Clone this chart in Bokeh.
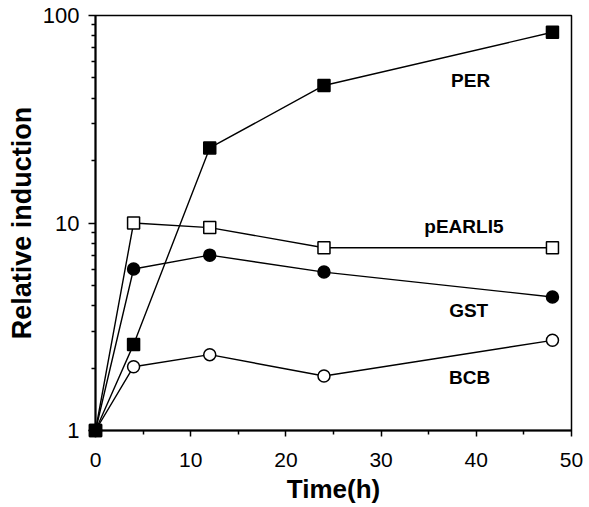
from bokeh.plotting import figure
from bokeh.models import FixedTicker, Range1d, ColumnDataSource, CustomJSTickFormatter
from bokeh.core.properties import value
from bokeh.embed import file_html
from bokeh.resources import INLINE

time_h = [0, 4, 12, 24, 48]
per = [1.0, 2.6, 23.0, 46.0, 83.0]
pearli5 = [1.0, 10.0, 9.5, 7.6, 7.6]
gst = [1.0, 6.0, 7.0, 5.8, 4.4]
bcb = [1.0, 2.03, 2.32, 1.83, 2.72]

label_names = ["PER", "pEARLI5", "GST", "BCB"]
label_x = [39.4, 38.7, 39.2, 39.3]
label_y = [48.5, 9.6, 3.8, 1.81]

x_ticks = [0, 10, 20, 30, 40, 50]
x_minor = [5, 15, 25, 35, 45]
y_ticks = [1, 10, 100]
y_minor = [2, 3, 4, 5, 6, 7, 8, 9, 20, 30, 40, 50, 60, 70, 80, 90]

p = figure(frame_width=476, frame_height=415,
           y_axis_type="log", x_range=Range1d(0, 50), y_range=Range1d(1, 100),
           output_backend="svg", toolbar_location=None,
           min_border_left=95, min_border_right=17, min_border_top=15, min_border_bottom=77)
p.background_fill_color = "white"
p.border_fill_color = "white"
p.grid.visible = False
p.outline_line_color = "black"
p.outline_line_width = 1.5

p.xaxis.ticker = FixedTicker(ticks=x_ticks, minor_ticks=x_minor)
p.yaxis.ticker = FixedTicker(ticks=y_ticks, minor_ticks=y_minor)
p.yaxis.formatter = CustomJSTickFormatter(code="return tick.toFixed(0)")

for ax in (p.xaxis[0], p.yaxis[0]):
    ax.axis_line_width = 2
    ax.axis_line_color = "black"
    ax.major_tick_line_width = 1.5
    ax.minor_tick_line_width = 1.5
    ax.major_tick_in = 0
    ax.minor_tick_in = 0
    ax.major_label_text_font = "Liberation Sans"
    ax.major_label_text_color = "black"
    ax.axis_label_text_font = "Liberation Sans"
    ax.axis_label_text_font_style = "bold"
    ax.axis_label_text_color = "black"

p.xaxis.major_tick_out = 6
p.xaxis.minor_tick_out = 4
p.yaxis.major_tick_out = 7
p.yaxis.minor_tick_out = 4
p.xaxis.major_label_text_font_size = "21px"
p.yaxis.major_label_text_font_size = "22px"
p.xaxis.major_label_standoff = 16
p.yaxis.major_label_standoff = 9
p.xaxis.axis_label = "Time(h)"
p.yaxis.axis_label = "Relative induction"
p.xaxis.axis_label_text_font_size = "26px"
p.yaxis.axis_label_text_font_size = "27px"
p.xaxis.axis_label_standoff = 4
p.yaxis.axis_label_standoff = 3

series = [
    (per, "square", "black"),
    (pearli5, "square", "white"),
    (gst, "circle", "black"),
    (bcb, "circle", "white"),
]
for vals, marker, fill in series:
    src = ColumnDataSource(dict(x=time_h, y=vals))
    p.line("x", "y", source=src, line_color="black", line_width=1.4)
for vals, marker, fill in reversed(series):
    src = ColumnDataSource(dict(x=time_h, y=vals))
    p.scatter("x", "y", source=src, marker=marker, size=12, fill_color=fill,
              line_color="black", line_width=1.5, level="overlay")

lsrc = ColumnDataSource(dict(x=label_x, y=label_y, t=label_names))
p.text("x", "y", text="t", source=lsrc, text_font=value("Liberation Sans"),
       text_font_style="bold", text_font_size="19px", text_align="center",
       text_baseline="middle", text_color="black")

open("out.html", "w").write(file_html(p, INLINE))
